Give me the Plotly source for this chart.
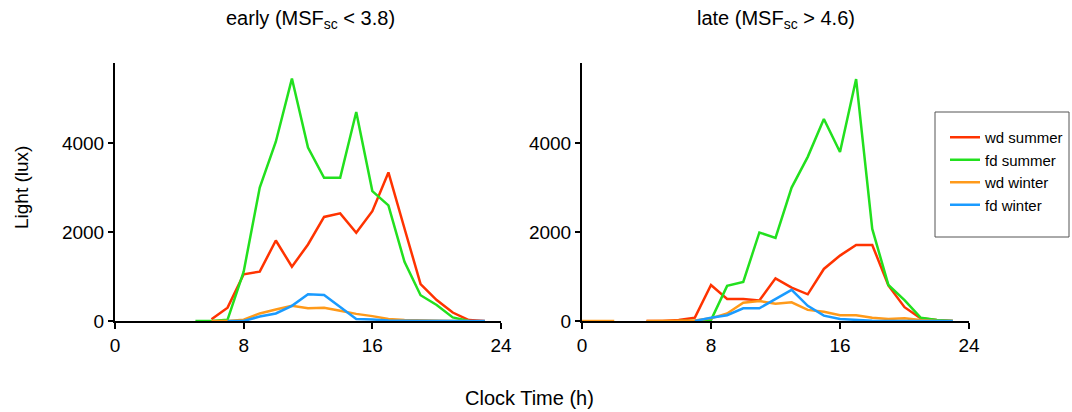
import plotly.graph_objects as go

hours = list(range(24))
N = None

# early chronotypes (left panel)
early_wd_summer = [N, N, N, N, N, N, 40, 300, 1050, 1110, 1810, 1220, 1720, 2340, 2420, 1985, 2470, 3340, 2080, 830, 470, 190, 20, 0]
early_fd_summer = [N, N, N, N, N, 0, 0, 30, 1110, 3000, 4030, 5450, 3900, 3220, 3220, 4700, 2920, 2600, 1330, 580, 360, 80, 0, N]
early_wd_winter = [N, N, N, N, N, N, 0, 0, 30, 170, 260, 340, 285, 300, 230, 160, 110, 45, 20, 10, 5, 0, 0, N]
early_fd_winter = [N, N, N, N, N, N, N, 0, 0, 100, 170, 340, 600, 585, 310, 45, 35, 10, 5, 0, 0, 0, 0, 0]

# late chronotypes (right panel)
late_wd_summer = [N, N, N, N, 0, 0, 20, 75, 810, 495, 495, 460, 960, 750, 600, 1170, 1470, 1710, 1710, 800, 310, 60, 20, 0]
late_fd_summer = [N, N, N, N, N, N, 0, 0, 20, 790, 880, 1990, 1870, 3000, 3690, 4540, 3800, 5440, 2070, 810, 470, 75, 20, 0]
late_wd_winter = [0, 0, 0, N, 0, 0, 0, 10, 60, 170, 410, 450, 390, 420, 250, 210, 130, 130, 75, 45, 60, 20, 0, 0]
late_fd_winter = [N, N, N, N, N, N, N, 0, 75, 130, 285, 285, 495, 700, 340, 120, 45, 20, 5, 0, 0, 0, 0, 0]

series_names = ["wd summer", "fd summer", "wd winter", "fd winter"]
colors = ["#FF3300", "#22E01E", "#FF9A1A", "#1A9BFF"]
x_ticks = [0, 8, 16, 24]
y_ticks = [0, 2000, 4000]
titles = ["early (MSF<sub>sc</sub> < 3.8)", "late (MSF<sub>sc</sub> > 4.6)"]
x_title = "Clock Time (h)"
y_title = "Light (lux)"

FONT = "Liberation Sans, Arial, sans-serif"

fig = go.Figure()
left = [early_wd_summer, early_fd_summer, early_wd_winter, early_fd_winter]
right = [late_wd_summer, late_fd_summer, late_wd_winter, late_fd_winter]
for i, (name, col) in enumerate(zip(series_names, colors)):
    fig.add_trace(go.Scatter(x=hours, y=left[i], mode="lines", name=name,
                             line=dict(color=col, width=2.5), xaxis="x", yaxis="y",
                             showlegend=True, connectgaps=False))
for i, (name, col) in enumerate(zip(series_names, colors)):
    fig.add_trace(go.Scatter(x=hours, y=right[i], mode="lines", name=name,
                             line=dict(color=col, width=2.5), xaxis="x2", yaxis="y2",
                             showlegend=False, connectgaps=False))

W, H = 1072, 412
ml, mr, mt, mb = 115, 103, 63, 91
pw = W - ml - mr
ph = H - mt - mb

def px_x(p):
    return (p - ml) / pw

def px_y(p):
    return (H - mb - p) / ph

axis_common = dict(showline=True, linecolor="black", linewidth=2, ticks="outside",
                   tickcolor="black", tickwidth=2, showgrid=False, zeroline=False,
                   layer="below traces",
                   tickfont=dict(family=FONT, size=19, color="black"))

fig.update_layout(
    width=W, height=H,
    margin=dict(l=ml, r=mr, t=mt, b=mb, autoexpand=False),
    plot_bgcolor="white", paper_bgcolor="white",
    font=dict(family=FONT, color="black"),
    xaxis=dict(domain=[0, px_x(501)], range=[0, 24], tickvals=x_ticks, ticklen=6, **axis_common),
    xaxis2=dict(domain=[px_x(582), 1], range=[0, 24], tickvals=x_ticks, ticklen=6, anchor="y2", **axis_common),
    yaxis=dict(range=[0, 5800], tickvals=y_ticks, ticklen=5, anchor="x", **axis_common),
    yaxis2=dict(range=[0, 5800], tickvals=y_ticks, ticklen=5, anchor="x2", **axis_common),
    legend=dict(x=px_x(945), y=px_y(121), xanchor="left", yanchor="top",
                borderwidth=0, bgcolor="rgba(0,0,0,0)",
                font=dict(family=FONT, size=15, color="black")),
    shapes=[dict(type="rect", xref="paper", yref="paper",
                 x0=px_x(935), x1=px_x(1069), y0=px_y(237), y1=px_y(112),
                 line=dict(color="#555555", width=1), fillcolor="rgba(0,0,0,0)")],
    annotations=[
        dict(text=titles[0], x=px_x(310), y=px_y(20), xref="paper", yref="paper",
             showarrow=False, font=dict(family=FONT, size=20), xanchor="center", yanchor="middle"),
        dict(text=titles[1], x=px_x(776), y=px_y(20), xref="paper", yref="paper",
             showarrow=False, font=dict(family=FONT, size=20), xanchor="center", yanchor="middle"),
        dict(text=x_title, x=px_x(529), y=px_y(398), xref="paper", yref="paper",
             showarrow=False, font=dict(family=FONT, size=20), xanchor="center", yanchor="middle"),
        dict(text=y_title, x=px_x(21), y=px_y(188), xref="paper", yref="paper",
             showarrow=False, font=dict(family=FONT, size=19), textangle=-90,
             xanchor="center", yanchor="middle"),
    ],
)

fig.write_html("out.html", config={"displayModeBar": False},
               post_script="document.body.style.margin='0px';")
